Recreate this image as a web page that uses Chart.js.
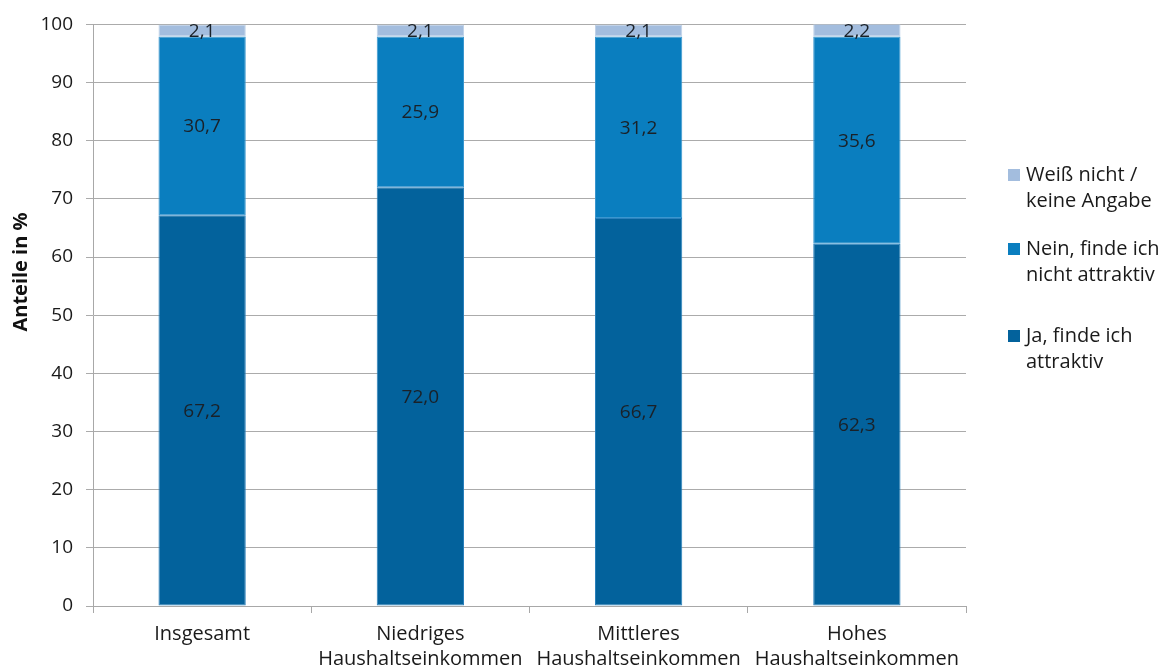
<!DOCTYPE html>
<html>
<head>
<meta charset="utf-8">
<script src="https://cdn.jsdelivr.net/npm/chart.js@4/dist/chart.umd.min.js"></script>
<style>
html,body{margin:0;padding:0;background:#fff;}
#wrap{position:relative;width:1166px;height:671px;}
</style>
</head>
<body>
<div id="wrap"><canvas id="c" width="1166" height="671"></canvas></div>
<script>
const categories = [["Insgesamt"], ["Niedriges", "Haushaltseinkommen"], ["Mittleres", "Haushaltseinkommen"], ["Hohes", "Haushaltseinkommen"]];
const seriesNames = ["Ja, finde ich attraktiv", "Nein, finde ich nicht attraktiv", "Weiß nicht / keine Angabe"];
const legendLines = [["Weiß nicht /", "keine Angabe"], ["Nein, finde ich", "nicht attraktiv"], ["Ja, finde ich", "attraktiv"]];
const jaValues = [67.2, 72.0, 66.7, 62.3];
const neinValues = [30.7, 25.9, 31.2, 35.6];
const weissValues = [2.1, 2.1, 2.1, 2.2];
const yTicks = [0, 10, 20, 30, 40, 50, 60, 70, 80, 90, 100];
const yTitle = "Anteile in %";

const FONT = "'Open Sans', sans-serif";
const colors = ["#03629C", "#0A7EBF", "#A3BDDE"];
const borders = ["#2A80BC", "#3A97CF", "#C0D2E8"];

const valueLabels = {
  id: 'valueLabels',
  afterDatasetsDraw(chart) {
    const ctx = chart.ctx;
    ctx.save();
    ctx.font = "19px " + FONT;
    ctx.fillStyle = "#1a2128";
    ctx.textAlign = "center";
    ctx.textBaseline = "middle";
    chart.data.datasets.forEach((ds, di) => {
      const meta = chart.getDatasetMeta(di);
      meta.data.forEach((bar, i) => {
        const v = ds.data[i];
        const y = (bar.y + bar.base) / 2;
        ctx.fillText(v.toFixed(1).replace('.', ','), bar.x, y + 1);
      });
    });
    ctx.restore();
  }
};

const extras = {
  id: 'extras',
  afterDraw(chart) {
    const ctx = chart.ctx;
    ctx.save();
    ctx.font = "bold 20px " + FONT;
    ctx.fillStyle = "#111";
    ctx.textAlign = "center";
    ctx.textBaseline = "middle";
    ctx.translate(21, 272);
    ctx.rotate(-Math.PI / 2);
    ctx.fillText(yTitle, 0, 0);
    ctx.restore();
    ctx.save();
    ctx.font = "20px " + FONT;
    ctx.textAlign = "left";
    ctx.textBaseline = "middle";
    const order = [2, 1, 0];
    const startY = [175, 249, 336];
    order.forEach((di, k) => {
      const y0 = startY[k];
      ctx.fillStyle = colors[di];
      ctx.fillRect(1008, y0 - 6, 12, 12);
      ctx.fillStyle = "#1a1a1a";
      legendLines[k].forEach((line, j) => {
        ctx.fillText(line, 1026, y0 + j * 26);
      });
    });
    ctx.restore();
  }
};

new Chart(document.getElementById('c'), {
  type: 'bar',
  data: {
    labels: categories,
    datasets: [
      { label: seriesNames[0], data: jaValues, backgroundColor: colors[0], borderColor: borders[0], borderWidth: 1, borderSkipped: false },
      { label: seriesNames[1], data: neinValues, backgroundColor: colors[1], borderColor: borders[1], borderWidth: 1, borderSkipped: false },
      { label: seriesNames[2], data: weissValues, backgroundColor: colors[2], borderColor: borders[2], borderWidth: 1, borderSkipped: false }
    ]
  },
  options: {
    responsive: false,
    animation: false,
    devicePixelRatio: 1,
    layout: { padding: { top: 24, right: 200, left: 0, bottom: 0 } },
    datasets: { bar: { barPercentage: 0.4, categoryPercentage: 1.0 } },
    plugins: { legend: { display: false }, tooltip: { enabled: false } },
    scales: {
      x: {
        stacked: true,
        afterFit(s) { s.height = 65; },
        grid: { display: true, drawOnChartArea: false, offset: true, tickLength: 7, color: '#a8a8a8', lineWidth: 1 },
        border: { display: true, color: '#a8a8a8', width: 1 },
        ticks: { font: { family: FONT, size: 20, lineHeight: 1.25 }, color: '#1a1a1a', padding: 9, maxRotation: 0, autoSkip: false }
      },
      y: {
        stacked: true,
        min: 0, max: 100,
        afterFit(s) { s.width = 93; },
        afterBuildTicks(s) { s.ticks = yTicks.map(v => ({ value: v })); },
        grid: { color: '#ababab', lineWidth: 1, tickLength: 7 },
        border: { display: true, color: '#a8a8a8', width: 1 },
        ticks: { font: { family: FONT, size: 19 }, color: '#1a1a1a', padding: 13 }
      }
    }
  },
  plugins: [valueLabels, extras]
});
</script>
</body>
</html>
